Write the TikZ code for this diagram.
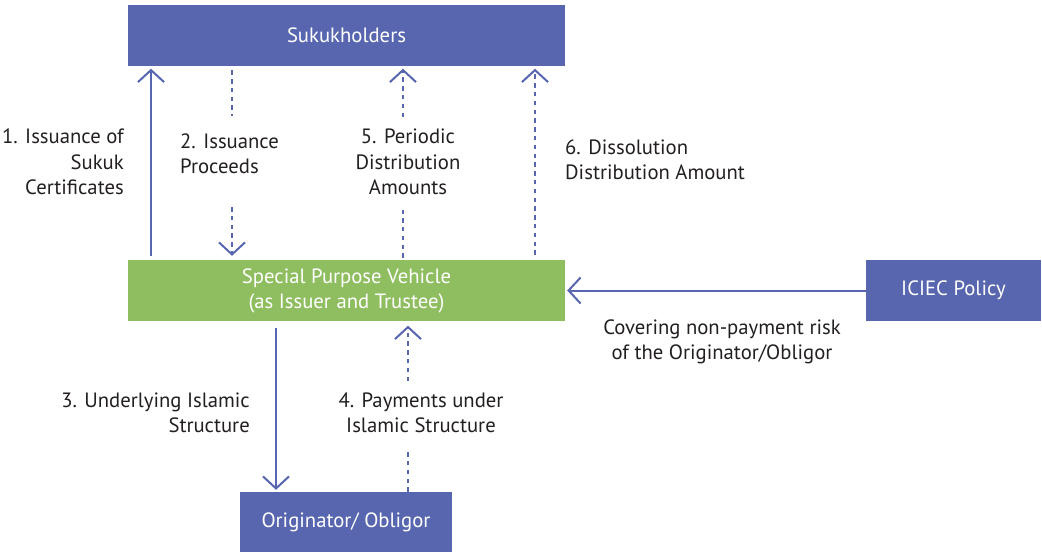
\documentclass[tikz,border=0pt]{standalone}
\usepackage{fontspec}
\setmainfont{PT Sans}
\usetikzlibrary{arrows.meta}
\definecolor{boxblue}{RGB}{88,102,176}
\definecolor{boxgreen}{RGB}{143,190,96}
\definecolor{txt}{RGB}{35,31,32}
\begin{document}
\begin{tikzpicture}[x=1pt,y=-1pt,
  box/.style={fill=boxblue,text=white,inner sep=0pt,align=center,font=\fontsize{20.7}{25}\selectfont},
  lbl/.style={inner sep=0pt,text=txt,font=\fontsize{20.7}{25.5}\selectfont},
  solidarr/.style={draw=boxblue,line width=2pt,-{Straight Barb[length=12pt,width=26pt,line width=2pt]}},
  dasharr/.style={solidarr,dash pattern=on 4.5pt off 4.3pt},
  dashln/.style={draw=boxblue,line width=2pt,dash pattern=on 4.5pt off 4.3pt}]
\useasboundingbox (0,0) rectangle (1042,552);
% boxes
\node[box,minimum width=437pt,minimum height=61pt] (suk) at (346.5,35.5) {Sukukholders};
\node[box,fill=boxgreen,minimum width=437pt,minimum height=61pt] (spv) at (346.5,290.5) {Special Purpose Vehicle\\(as Issuer and Trustee)};
\node[box,minimum width=212pt,minimum height=60pt] (orig) at (346,522) {Originator/ Obligor};
\node[box,minimum width=175pt,minimum height=61pt] (iciec) at (953.5,290.5) {ICIEC Policy};
% x positions of vertical connectors
\coordinate (x1) at (151,0);
\coordinate (x2) at (232,0);
\coordinate (x5) at (403,0);
\coordinate (x6) at (535,0);
\coordinate (x3) at (276,0);
\coordinate (x4) at (408,0);
% gap ends
\coordinate (g2a) at (232,116);
\coordinate (g2b) at (232,207);
\coordinate (g5a) at (403,117);
\coordinate (g5b) at (403,210);
\coordinate (g4a) at (408,381);
\coordinate (g4b) at (408,452);
% connectors
\draw[solidarr,shorten <=4pt,shorten >=2.5pt] (spv.north -| x1) -- (suk.south -| x1);
\draw[dashln,shorten <=4pt] (suk.south -| x2) -- (g2a);
\draw[dasharr,shorten >=4pt] (g2b) -- (spv.north -| x2);
\draw[dashln,shorten <=2pt] (spv.north -| x5) -- (g5b);
\draw[dasharr,shorten >=2.5pt] (g5a) -- (suk.south -| x5);
\draw[dasharr,shorten <=5pt,shorten >=2.5pt] (spv.north -| x6) -- (suk.south -| x6);
\draw[solidarr,shorten <=7pt,shorten >=2pt] (spv.south -| x3) -- (orig.north -| x3);
\draw[dashln] (orig.north -| x4) -- (g4b);
\draw[dasharr,shorten >=4.5pt] (g4a) -- (spv.south -| x4);
\draw[solidarr,shorten >=2pt] (iciec.west) -- (spv.east);
% labels
\node[lbl,anchor=east,align=right] (l1) at (124,162) {1. Issuance of\\Sukuk\\Certificates};
\node[lbl,anchor=west,align=left] (l2) at (180,154) {2. Issuance\\Proceeds};
\node[lbl,align=center] (l5) at (408,162) {5. Periodic\\Distribution\\Amounts};
\node[lbl,anchor=west,align=left] (l6) at (565,160) {6. Dissolution\\Distribution Amount};
\node[lbl,anchor=east,align=right] (l3) at (250,413) {3. Underlying Islamic\\Structure};
\node[lbl,align=center] (l4) at (421,413) {4. Payments under\\Islamic Structure};
\node[lbl,align=center] (lic) at (722,342) {Covering non-payment risk\\of the Originator/Obligor};
\end{tikzpicture}
\end{document}
